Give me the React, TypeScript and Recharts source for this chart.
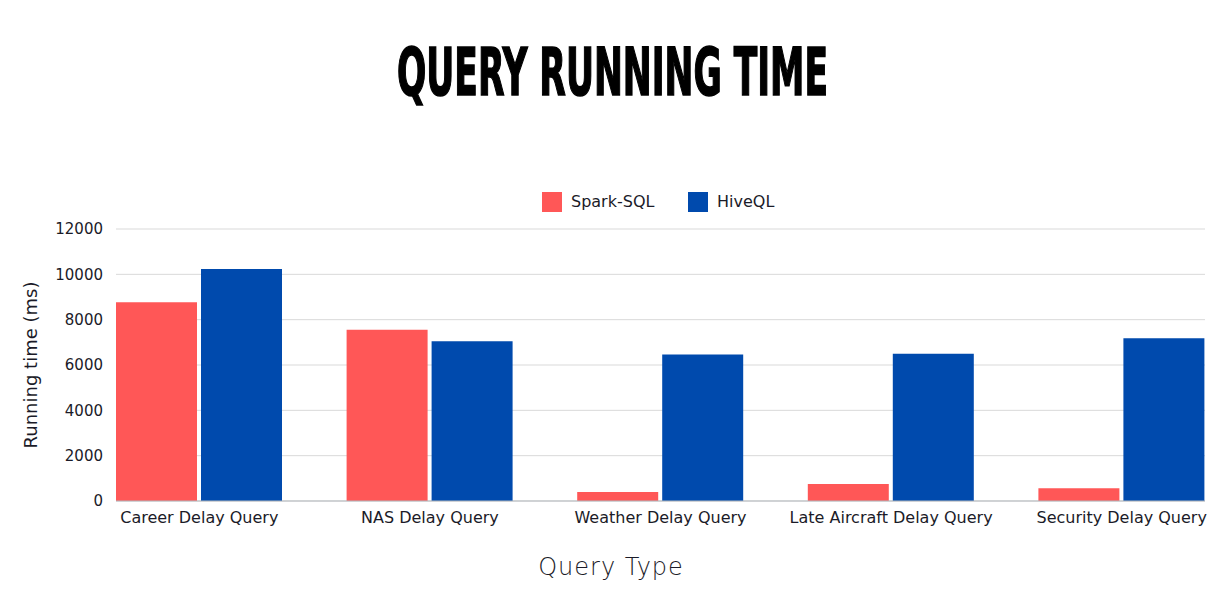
import { BarChart, Bar, XAxis, YAxis, CartesianGrid } from 'recharts'

const CATEGORIES = [
  'Career Delay Query',
  'NAS Delay Query',
  'Weather Delay Query',
  'Late Aircraft Delay Query',
  'Security Delay Query',
]
const SPARK_SQL = [8770, 7560, 400, 750, 560]
const HIVE_QL = [10240, 7050, 6460, 6500, 7180]
const Y_TICKS = [0, 2000, 4000, 6000, 8000, 10000, 12000]

const RED = '#ff5757'
const BLUE = '#004aad'
const FONT = '"DejaVu Sans", sans-serif'
const TEXT = '#1b1b28'

const data = CATEGORIES.map((name, i) => ({ name, spark: SPARK_SQL[i], hive: HIVE_QL[i] }))

const LEGEND = [
  { label: 'Spark-SQL', color: RED, x: 542 },
  { label: 'HiveQL', color: BLUE, x: 688 },
]

export default function App() {
  return (
    <div style={{ position: 'absolute', left: 0, top: 0, width: 1219, height: 595, overflow: 'hidden', background: '#fff' }}>
      <div style={{ position: 'absolute', left: 0, top: 0 }}>
        <BarChart
          width={1219}
          height={595}
          data={data}
          margin={{ top: 229, right: 14, left: 0, bottom: 0 }}
          barSize={81}
          barGap={4}
        >
          <CartesianGrid vertical={false} stroke="#d9d9d9" />
          <XAxis
            dataKey="name"
            height={94}
            padding={{ left: -32, right: -32 }}
            interval={0}
            tickLine={false}
            tickSize={0}
            tickMargin={11}
            axisLine={{ stroke: '#b3b8bd' }}
            tick={{ fontFamily: FONT, fontSize: 16, fill: TEXT }}
          />
          <YAxis
            width={116}
            domain={[0, 12000]}
            ticks={Y_TICKS}
            axisLine={false}
            tickLine={false}
            tickSize={0}
            tickMargin={13}
            tick={{ fontFamily: FONT, fontSize: 15, fill: TEXT }}
          />
          <Bar dataKey="spark" name="Spark-SQL" fill={RED} isAnimationActive={false} />
          <Bar dataKey="hive" name="HiveQL" fill={BLUE} isAnimationActive={false} />
        </BarChart>
      </div>
      <svg width={1219} height={595} style={{ position: 'absolute', left: 0, top: 0, pointerEvents: 'none' }}>
        <text
          x={397}
          y={95}
          textLength={431}
          lengthAdjust="spacingAndGlyphs"
          fontFamily='"Liberation Sans Narrow", "DejaVu Sans Condensed", sans-serif'
          fontWeight={700}
          fontSize={66}
          fill="#000"
          stroke="#000"
          strokeWidth={1.6}
        >
          QUERY RUNNING TIME
        </text>
        {LEGEND.map((it) => (
          <g key={it.label}>
            <rect x={it.x} y={192} width={20} height={20} fill={it.color} />
            <text x={it.x + 29} y={207} fontFamily={FONT} fontSize={16} fill={TEXT}>
              {it.label}
            </text>
          </g>
        ))}
        <text
          x={0}
          y={0}
          transform="translate(37 365) rotate(-90)"
          textAnchor="middle"
          fontFamily={FONT}
          fontSize={18}
          fill={TEXT}
        >
          Running time (ms)
        </text>
        <text x={611} y={575} textAnchor="middle" fontFamily={FONT} fontWeight={300} fontSize={24} letterSpacing={1} fill={TEXT}>
          Query Type
        </text>
      </svg>
    </div>
  )
}
